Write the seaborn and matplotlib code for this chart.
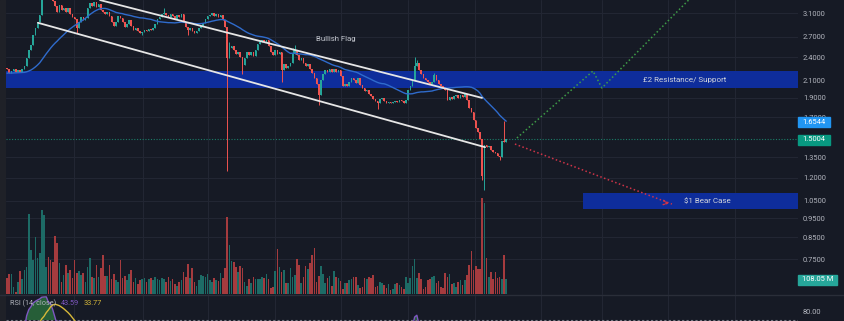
import numpy as np
import pandas as pd
import matplotlib
matplotlib.use("Agg")
import matplotlib.pyplot as plt
import seaborn as sns
from matplotlib.patches import Rectangle
from matplotlib.lines import Line2D
from matplotlib.ticker import NullLocator, NullFormatter

# ---------------- data ----------------
closes = [
    2.24, 2.19, 2.22, 2.25, 2.21, 2.23, 2.20, 2.24, 2.28, 2.39,
    2.50, 2.58, 2.73, 2.84, 2.95, 3.07, 3.38, 3.45, 3.48, 3.42, 3.40, 3.33,
    3.23, 3.12, 3.25, 3.15, 3.19, 3.12, 3.19, 3.09, 3.03, 3.00,
    2.84, 2.95, 3.03, 2.98, 3.01, 3.19, 3.29, 3.23, 3.31, 3.21,
    3.27, 3.15, 3.12, 3.09, 3.12, 3.05, 2.95, 2.88, 2.95, 3.05,
    3.01, 2.95, 2.86, 2.91, 2.98, 2.88, 2.81, 2.84, 2.79, 2.76,
    2.78, 2.81, 2.79, 2.83, 2.81, 2.84, 2.91, 3.00, 3.03, 3.09,
    3.10, 3.07, 3.03, 3.09, 3.05, 3.00, 3.07, 3.03, 3.09, 2.95,
    2.86, 2.81, 2.84, 2.79, 2.76, 2.79, 2.84, 2.88, 2.93, 3.00,
    3.05, 3.07, 3.10, 3.05, 3.09, 3.03, 3.07, 2.98, 2.86, 2.39,
    2.53, 2.56, 2.50, 2.45, 2.47, 2.40, 2.30, 2.39, 2.47, 2.43,
    2.47, 2.42, 2.50, 2.59, 2.62, 2.65, 2.62, 2.65, 2.56, 2.47,
    2.43, 2.50, 2.45, 2.47, 2.23, 2.31, 2.26, 2.28, 2.33, 2.45,
    2.50, 2.43, 2.36, 2.39, 2.33, 2.28, 2.31, 2.24, 2.19, 2.13,
    2.06, 1.93, 2.11, 2.18, 2.23, 2.21, 2.24, 2.21, 2.25, 2.21,
    2.23, 2.16, 2.04, 2.06, 2.04, 2.08, 2.13, 2.11, 2.07, 2.13,
    2.05, 2.01, 1.98, 1.99, 1.94, 1.92, 1.89, 1.87, 1.84, 1.89,
    1.90, 1.87, 1.84, 1.86, 1.84, 1.86, 1.87, 1.86, 1.88, 1.87,
    1.84, 1.88, 1.99, 2.04, 2.09, 2.28, 2.33, 2.23, 2.18, 2.13,
    2.11, 2.08, 2.06, 2.08, 2.17, 2.11, 2.06, 2.04, 2.01, 1.99,
    1.88, 1.91, 1.89, 1.92, 1.93, 1.90, 1.93, 1.91, 1.94, 1.88,
    1.79, 1.75, 1.67, 1.60, 1.56, 1.50, 1.21, 1.45, 1.43, 1.44,
    1.41, 1.39, 1.38, 1.36, 1.35, 1.48, 1.47, 1.5004,
]
first_open = 2.26
wick_high = {16: 3.52, 17: 3.60, 72: 3.19, 102: 2.62, 131: 2.53, 132: 2.58,
             187: 2.40, 188: 2.36, 196: 2.19, 228: 1.66}
wick_low = {32: 2.76, 62: 2.73, 83: 2.73, 101: 1.25, 108: 2.18, 126: 2.08,
            143: 1.82, 170: 1.78, 218: 1.18, 219: 1.12, 226: 1.33}
ma_start_level = 2.19   # level of the blue MA at the left edge

# volume in relative units (1 unit ~ 7.2M)
volume = [
    16, 20, 20, 7, 2, 12, 23, 15, 24, 27, 80, 44, 34, 57, 36, 41, 84, 79, 27, 37,
    34, 32, 58, 51, 31, 12, 19, 29, 21, 24, 16, 34, 21, 23, 19, 21, 12, 27, 36, 17,
    16, 29, 17, 26, 39, 18,
    18, 29, 15, 20, 14, 12, 34, 16, 18, 14, 20, 24, 12, 16, 10, 14, 15, 16, 12, 15,
    16, 14, 17, 15, 14, 16, 15, 12, 17, 13, 15, 10, 8, 12, 14, 22, 17, 30, 16, 26,
    12, 8, 14, 19, 18, 17, 20, 14, 12, 16, 14, 13, 21, 16, 26, 77, 49, 33, 32, 27,
    22, 28, 26, 12, 8, 15, 11, 17,
    15, 15, 15, 17, 16, 20, 15, 6, 7, 23, 45, 27, 22, 24, 11, 11, 26, 17, 19, 35,
    29, 11, 17, 28, 25, 31, 39, 46, 12, 18, 28, 20, 11, 16, 18, 8, 23, 17, 16, 13,
    5, 11, 11, 14, 15, 17, 17, 9, 6, 7, 16, 15, 17, 16, 19, 7, 8, 12, 11, 9,
    6, 10, 4, 5, 10, 11, 9, 7, 5, 17, 11, 16, 28, 35, 16, 21, 15, 5, 7, 14,
    15, 17, 18, 11, 13, 7, 6, 21, 17, 20, 10, 11, 7, 12, 14, 9, 14, 19, 29, 43,
    24, 28, 25, 25, 96, 91, 36, 17, 22, 15, 22, 16, 17, 15, 39, 15,
]

price_ticks = [3.1, 2.7, 2.4, 2.1, 1.9, 1.7, 1.35, 1.2, 1.05, 0.95, 0.85, 0.75]
rsi_ticks = [80]
resistance_zone = (2.01, 2.22)
bear_zone = (1.00, 1.10)
bear_zone_start = 264.2
channel_upper = [(42.7, 3.34), (217.9, 1.90)]
channel_lower = [(14.2, 2.93), (219.3, 1.43)]
bull_path = [(233.9, 1.508), (268.8, 2.219), (272.9, 2.012), (324.8, 3.90)]
bear_path = [(233.0, 1.456), (305.0, 1.030)]
ma_label = "1.6544"
last_label = "1.5004"
vol_label = "108.05 M"
rsi_values_text = ("43.59", "33.77")

# ---------------- styling / layout ----------------
W, H = 845, 321
BG = '#161a25'
GRID = '#222633'
TXT = '#b2b5be'
UP, DN = '#26a69a', '#ef5350'
VUP, VDN = '#1d6b66', '#a53b3e'
ZONE = '#0e2d9b'

sns.set_theme(style='dark', rc={'axes.facecolor': BG, 'figure.facecolor': BG})
plt.rcParams['font.family'] = ['Roboto', 'DejaVu Sans']

fig = plt.figure(figsize=(W / 100, H / 100), dpi=100)
fig.patch.set_facecolor(BG)


def rect(l, t, r, b):
    return [l / W, 1 - b / H, (r - l) / W, (b - t) / H]


def px2x(px):
    return (px - 7) / 2.18


def py2p(py):
    return float(np.exp((209.2 - py) / 173.4))


PL, PR, PB = 6, 798, 294
ax = fig.add_axes(rect(PL, 0, PR, PB))
ax_rsi = fig.add_axes(rect(PL, PB, PR, H), sharex=ax)
ax_vol = ax.twinx()
for a in (ax, ax_rsi, ax_vol):
    for s in a.spines.values():
        s.set_visible(False)
ax.set_facecolor(BG)
ax_rsi.set_facecolor(BG)

n = len(closes)
idx = np.arange(n)
c = np.array(closes)
o = np.array([first_open] + closes[:-1])
up = c >= o
col = np.where(up, UP, DN)
hi = np.maximum(o, c)
lo = np.minimum(o, c)
for k, v in wick_high.items():
    hi[k] = v
for k, v in wick_low.items():
    lo[k] = v

ax.set_yscale('log')
xlim = (px2x(PL), px2x(PR))
ylim = (py2p(PB), py2p(0))

# zones
ax.axhspan(*resistance_zone, color=ZONE, zorder=1, lw=0)
ax.fill_between([bear_zone_start, xlim[1]], bear_zone[0], bear_zone[1],
                color=ZONE, zorder=1, lw=0)

# vertical grid
for gx in [74, 143, 208, 275, 341, 408, 475, 541, 602, 668, 735]:
    ax.axvline(px2x(gx), color=GRID, lw=0.8, zorder=0.5)
    ax_rsi.axvline(px2x(gx), color=GRID, lw=0.8, zorder=0.5)

# last price dotted line
ax.axhline(closes[-1], color='#1b7d68', lw=0.8, ls=(0, (1, 1.5)), zorder=2)

# candles
ax.vlines(idx, lo, hi, colors=col, lw=0.7, zorder=3)
ax.bar(idx, np.maximum(np.abs(c - o), 0.004 * np.minimum(o, c)),
       bottom=np.minimum(o, c), width=0.72, color=col, lw=0, zorder=3)

# moving average (30, warmed up from the level at the left edge)
ma = pd.Series([ma_start_level] * 29 + closes).rolling(30).mean().iloc[29:].values
sns.lineplot(x=idx, y=ma, ax=ax, color='#2f6bcc', lw=1.0, zorder=4)

# channel
for seg in (channel_upper, channel_lower):
    xs, ys = zip(*seg)
    ax.plot(xs, ys, color='#e6e6e6', lw=1.3, zorder=5, solid_capstyle='round')

# projections
xs, ys = zip(*bull_path)
ax.plot(xs, ys, color='#3f9c48', lw=1.1, ls=(0, (1, 1.6)), zorder=5)
xs, ys = zip(*bear_path)
ax.plot(xs, ys, color='#cf3448', lw=1.1, ls=(0, (1, 1.6)), zorder=5)
ax.annotate('', xy=bear_path[-1], xytext=(bear_path[-1][0] - 4, py2p(202.5)),
            arrowprops=dict(arrowstyle='->', color='#cf3448', lw=1.0,
                            linestyle=(0, (1, 1)), mutation_scale=8), zorder=5)

# volume overlay
vol_df = pd.DataFrame({'i': idx, 'vol': volume, 'dir': np.where(up, 'up', 'down')})
sns.barplot(data=vol_df, x='i', y='vol', hue='dir',
            palette={'up': VUP, 'down': VDN}, native_scale=True, dodge=False,
            width=0.75, saturation=1, errorbar=None, legend=False, ax=ax_vol,
            linewidth=0)
ax_vol.set_ylim(0, PB)
ax_vol.set_yticks([])
ax_vol.set_xlabel('')
ax_vol.set_ylabel('')

ax.set_xlim(*xlim)
ax.set_ylim(*ylim)
ax.set_xticks([])
ax.yaxis.tick_right()
ax.set_yticks(price_ticks)
ax.set_yticklabels([f'{t:.4f}' for t in price_ticks])
ax.yaxis.set_minor_locator(NullLocator())
ax.yaxis.set_minor_formatter(NullFormatter())
ax.tick_params(axis='y', which='both', left=False, labelleft=False, right=False,
               labelright=True, length=0, pad=3.6, labelsize=5.4, labelcolor=TXT)
ax.yaxis.grid(True, color=GRID, lw=0.8)
ax.xaxis.grid(False)
ax.set_axisbelow(True)
ax.set_xlabel('')
ax.set_ylabel('')

# RSI pane
s = pd.Series(closes)
delta = s.diff()
ag = delta.clip(lower=0).ewm(alpha=1 / 14, adjust=True).mean()
al = (-delta.clip(upper=0)).ewm(alpha=1 / 14, adjust=True).mean()
rsi = (100 - 100 / (1 + ag / al)).values
rsi_ma = pd.Series(rsi).rolling(14).mean().values
ax_rsi.fill_between(idx, 70, rsi, where=rsi > 70, interpolate=True,
                    color='#2a6b3c', alpha=0.85, lw=0, zorder=2)
sns.lineplot(x=idx, y=rsi, ax=ax_rsi, color='#7e57c2', lw=1.0, zorder=3)
sns.lineplot(x=idx, y=rsi_ma, ax=ax_rsi, color='#d6b83a', lw=1.0, zorder=3)
ax_rsi.axhline(70, color='#787b86', lw=0.8, ls=(0, (2, 2)), zorder=1)
ax_rsi.set_ylim(68.9, 98.9)
ax_rsi.set_xlim(*xlim)
ax_rsi.set_xticks([])
ax_rsi.yaxis.tick_right()
ax_rsi.set_yticks(rsi_ticks)
ax_rsi.set_yticklabels([f'{t:.2f}' for t in rsi_ticks])
ax_rsi.tick_params(axis='y', length=0, pad=3.6, labelsize=5.4, labelcolor=TXT)
ax_rsi.set_xlabel('')
ax_rsi.set_ylabel('')
ax_rsi.grid(False)

# separators / strips
fig.add_artist(Rectangle((0, 0), PL / W, 1, transform=fig.transFigure,
                         color='#1f2128', zorder=0))
fig.add_artist(Line2D([0, 1], [1 - 294.5 / H] * 2, transform=fig.transFigure,
                      color='#2a2e39', lw=1.0, zorder=2))


def ftext(px, py, s, **kw):
    fig.text(px / W, 1 - py / H, s, **kw)


def badge(l, t, r, b, color, s):
    fig.add_artist(Rectangle((l / W, 1 - b / H), (r - l) / W, (b - t) / H,
                             transform=fig.transFigure, color=color, zorder=4))
    ftext((l + r) / 2, (t + b) / 2, s, color='white', fontsize=5.4,
          ha='center', va='center', zorder=5)


badge(798, 117, 830, 127, '#2196f3', ma_label)
badge(798, 135, 830, 144.5, '#089981', last_label)
badge(798, 275, 837, 284.5, '#26a69a', vol_label)

ftext(684.5, 80, '£2 Resistance/ Support', color='#d1d4dc', fontsize=5.8,
      ha='center', va='center', zorder=6)
ftext(707, 201, '$1 Bear Case', color='#d1d4dc', fontsize=5.8,
      ha='center', va='center', zorder=6)
ftext(336, 38.5, 'Bullish Flag', color='#c3c6ce', fontsize=5.6,
      ha='center', va='center', zorder=6)

ftext(10, 303.5, 'RSI (14, close)', color=TXT, fontsize=5.2, ha='left', va='center', zorder=6)
ftext(61, 303.5, rsi_values_text[0], color='#7e57c2', fontsize=5.2, ha='left', va='center', zorder=6)
ftext(84, 303.5, rsi_values_text[1], color='#d6b83a', fontsize=5.2, ha='left', va='center', zorder=6)

fig.savefig('out.png', dpi=100, facecolor=BG)
